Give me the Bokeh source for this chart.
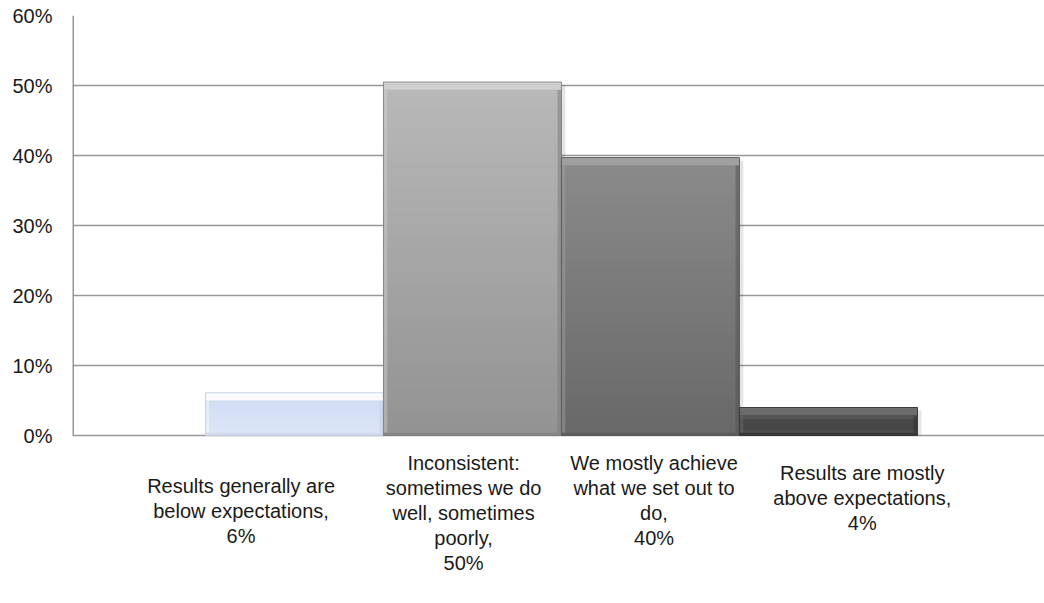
from bokeh.plotting import figure
from bokeh.models import Range1d, FixedTicker, PrintfTickFormatter
from bokeh.core.properties import value
from bokeh.embed import file_html
from bokeh.resources import INLINE

# ---- data ----
categories = [
    ["Results generally are", "below expectations,"],
    ["Inconsistent:", "sometimes we do", "well, sometimes", "poorly,"],
    ["We mostly achieve", "what we set out to", "do,"],
    ["Results are mostly", "above expectations,"],
]
values = [6.1, 50.5, 39.7, 4.0]          # bar heights (%)
value_labels = [6, 50, 40, 4]             # rounded data labels (%)
y_ticks = [0, 10, 20, 30, 40, 50, 60]

# ---- styles ----
bar_top_colors = ["#cedbf2", "#b8b8b8", "#8a8a8a", "#4f4f4f"]
bar_bot_colors = ["#dce6f8", "#939393", "#696969", "#434343"]
bevel_colors = ["#f8fafd", "#cfcfcf", "#a0a0a0", "#6c6c6c"]
edge_dark = ["#c3cde0", "#7a7a7a", "#525252", "#2e2e2e"]
label_dx = [-0.30, -0.05, 0.02, 0.19]        # label centre offsets from bar centre
label_top_px = [485, 462, 462, 472]          # first text line centre (px)
line_gap_px = 25
px_per_pct = 7.0
base_px = 435
X0 = -1.247
FONT = "Liberation Sans"
TXT = "#1a1a1a"

p = figure(width=1044, height=603, output_backend="svg", toolbar_location=None,
           x_range=Range1d(X0, X0 + 972 / 178),
           y_range=Range1d(-(603 - base_px) / px_per_pct, 60),
           min_border_left=72, min_border_right=0, min_border_top=15,
           min_border_bottom=0)
p.outline_line_color = None
p.background_fill_color = "white"
p.border_fill_color = "white"
p.xaxis.visible = False
p.xgrid.visible = False

p.yaxis.ticker = FixedTicker(ticks=y_ticks)
p.yaxis.formatter = PrintfTickFormatter(format="%d%%")
p.yaxis.major_tick_out = 0
p.yaxis.major_tick_in = 0
p.yaxis.minor_tick_out = 0
p.yaxis.minor_tick_in = 0
p.yaxis.major_label_standoff = 20
p.yaxis.major_label_text_font = FONT
p.yaxis.major_label_text_font_size = "20px"
p.yaxis.major_label_text_color = TXT
p.yaxis.axis_line_color = None
p.ygrid.ticker = FixedTicker(ticks=y_ticks)
p.ygrid.grid_line_color = "#979797"
p.ygrid.grid_line_width = 1.5

# vertical axis line (only over 0..60)
p.segment(x0=[X0], y0=[y_ticks[0]], x1=[X0], y1=[y_ticks[-1]],
          line_color="#979797", line_width=3)


def mix(c1, c2, t):
    a = [int(c1[i:i + 2], 16) for i in (1, 3, 5)]
    b = [int(c2[i:i + 2], 16) for i in (1, 3, 5)]
    return "#%02x%02x%02x" % tuple(round(a[k] + (b[k] - a[k]) * t) for k in range(3))


N = 30
xs = list(range(len(values)))
half = 0.5
for i, (x, v) in enumerate(zip(xs, values)):
    # soft shadow
    p.quad(left=x - half + 0.022, right=x + half + 0.022, bottom=0, top=v - 0.4,
           fill_color="black", fill_alpha=0.10, line_color=None)
    # vertical gradient body
    lefts, rights, bots, tops, cols = [], [], [], [], []
    for k in range(N):
        lefts.append(x - half); rights.append(x + half)
        bots.append(v * k / N)
        tops.append(min(v, v * (k + 1.6) / N))
        cols.append(mix(bar_bot_colors[i], bar_top_colors[i], k / (N - 1)))
    p.quad(left=lefts, right=rights, bottom=bots, top=tops,
           fill_color=cols, line_color=None)
    bev = 1.1  # bevel thickness in %
    # left highlight edge
    p.quad(left=x - half, right=x - half + 0.022, bottom=0.4, top=v - bev,
           fill_color=bevel_colors[i], fill_alpha=0.45, line_color=None)
    # right dark edge
    p.quad(left=x + half - 0.022, right=x + half, bottom=0.4, top=v - bev,
           fill_color=edge_dark[i], fill_alpha=0.5, line_color=None)
    # bottom dark edge
    p.quad(left=x - half, right=x + half, bottom=0, top=0.4,
           fill_color=edge_dark[i], fill_alpha=0.5, line_color=None)
    # top bevel
    p.quad(left=x - half, right=x + half, bottom=max(v - bev, 0), top=v,
           fill_color=bevel_colors[i], line_color=None)
    # outline
    p.quad(left=x - half, right=x + half, bottom=0, top=v,
           fill_color=None, line_color=edge_dark[i], line_width=1, line_alpha=0.8)

# category + value labels below the axis
tx, ty, tt = [], [], []
for i, (x, lines) in enumerate(zip(xs, categories)):
    all_lines = lines + ["%d%%" % value_labels[i]]
    for j, txt in enumerate(all_lines):
        ypx = label_top_px[i] + j * line_gap_px
        tx.append(x + label_dx[i])
        ty.append((base_px - ypx) / px_per_pct)
        tt.append(txt)
p.text(x=tx, y=ty, text=tt, text_align="center", text_baseline="middle",
       text_font=value(FONT), text_font_size="20px", text_color=TXT)

open("out.html", "w").write(file_html(p, INLINE))
